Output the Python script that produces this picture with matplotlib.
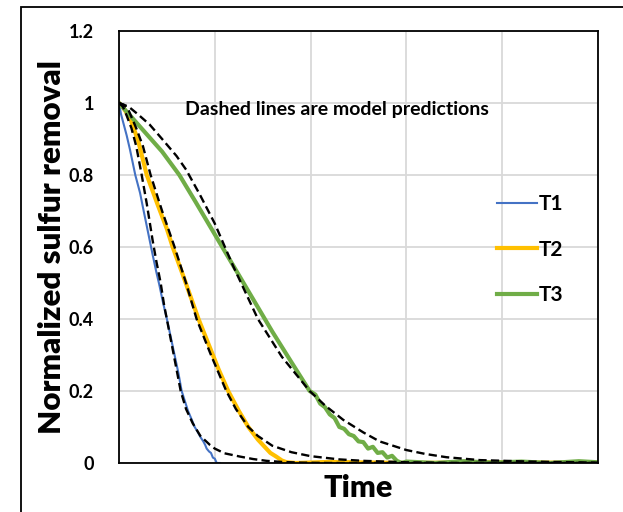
import numpy as np
import matplotlib
matplotlib.use("Agg")
from matplotlib import pyplot as plt

plt.rcParams['font.family'] = ['Lato', 'DejaVu Sans']

# measured curves (time in arbitrary units, one grid cell = 1)
t1 = [0, 0.02, 0.05, 0.08, 0.115, 0.17, 0.22, 0.25, 0.30, 0.35, 0.39, 0.42, 0.46,
      0.50, 0.54, 0.58, 0.62, 0.654, 0.69, 0.72, 0.76, 0.79, 0.82, 0.85, 0.88, 0.90,
      0.915, 0.94, 0.96, 0.98, 1.0, 1.02, 1.05]
y1 = [1.0, 0.97, 0.94, 0.91, 0.87, 0.80, 0.75, 0.71, 0.645, 0.58, 0.53, 0.496, 0.445,
      0.40, 0.35, 0.30, 0.25, 0.20, 0.17, 0.145, 0.12, 0.10, 0.087, 0.072, 0.06, 0.05,
      0.04, 0.032, 0.028, 0.015, 0.012, 0.0, 0.0]

t2 = [0, 0.05, 0.12, 0.2, 0.29, 0.4, 0.5, 0.56, 0.67, 0.75, 0.83, 0.95, 1.04, 1.14,
      1.25, 1.35, 1.45, 1.52, 1.58, 1.64, 1.7, 1.75, 1.85, 2.2, 3.0, 4.0, 5.0]
y2 = [1.0, 0.985, 0.955, 0.895, 0.80, 0.72, 0.65, 0.60, 0.52, 0.46, 0.40, 0.32, 0.26,
      0.20, 0.145, 0.10, 0.065, 0.045, 0.028, 0.018, 0.007, 0.002, 0.0, 0.003, 0.0,
      0.002, 0.0]

t3 = [0, 0.05, 0.15, 0.3, 0.45, 0.63, 0.8, 1.0, 1.2, 1.4, 1.6, 1.8, 1.99, 2.05, 2.1,
      2.15, 2.2, 2.25, 2.3, 2.35, 2.4, 2.45, 2.5, 2.55, 2.6, 2.65, 2.7, 2.75, 2.8, 2.85,
      2.9, 2.95, 3.0, 3.3, 3.6, 3.9, 4.2, 4.5, 4.8, 5.0]
y3 = [1.0, 0.985, 0.955, 0.91, 0.865, 0.80, 0.725, 0.635, 0.545, 0.455, 0.365, 0.28,
      0.20, 0.19, 0.165, 0.155, 0.135, 0.125, 0.10, 0.095, 0.08, 0.075, 0.06, 0.058,
      0.04, 0.045, 0.028, 0.03, 0.015, 0.02, 0.006, 0.0, 0.004, 0.0, 0.005, 0.001,
      0.004, 0.0, 0.005, 0.002]

# model predictions
m1_t = [0, 0.04, 0.08, 0.13, 0.18, 0.237, 0.29, 0.35, 0.39, 0.435, 0.47, 0.55, 0.644,
        0.70, 0.77, 0.85, 0.95, 1.0, 1.1, 1.26, 1.4, 1.54, 1.7, 1.9, 2.2, 3.0, 4.0, 5.0]
m1_y = [1.0, 0.99, 0.965, 0.93, 0.88, 0.80, 0.72, 0.62, 0.56, 0.50, 0.44, 0.33, 0.20,
        0.15, 0.11, 0.075, 0.05, 0.04, 0.027, 0.018, 0.011, 0.006, 0.003, 0.001, 0.0,
        0.0, 0.0, 0.0]

m2_t = [0, 0.05, 0.1, 0.18, 0.25, 0.33, 0.45, 0.58, 0.7, 0.81, 0.96, 1.12, 1.22, 1.35,
        1.45, 1.6, 1.8, 2.0, 2.3, 2.55, 3.0, 3.5, 5.0]
m2_y = [1.0, 0.995, 0.98, 0.93, 0.88, 0.80, 0.70, 0.60, 0.50, 0.40, 0.30, 0.20, 0.15,
        0.10, 0.075, 0.048, 0.03, 0.019, 0.01, 0.006, 0.002, 0.0, 0.0]

m3_t = [0, 0.1, 0.2, 0.32, 0.45, 0.6, 0.7, 0.845, 1.0, 1.19, 1.45, 1.7, 1.99, 2.15,
        2.34, 2.55, 2.72, 3.0, 3.2, 3.42, 3.77, 4.29, 5.0]
m3_y = [1.0, 0.99, 0.968, 0.94, 0.90, 0.853, 0.815, 0.745, 0.665, 0.548, 0.40, 0.295,
        0.20, 0.16, 0.12, 0.085, 0.06, 0.036, 0.025, 0.016, 0.008, 0.004, 0.001]

labels = ["T1", "T2", "T3"]
colors = ["#4472C4", "#FFC000", "#70AD47"]

fig = plt.figure(figsize=(6.23, 5.12), dpi=100)
ax = fig.add_axes([119/623, 49/512, 479/623, 432/512])

# outer frame
fig.patches.append(plt.Rectangle((21/623, -0.1), 1.2, (505/512) + 0.1,
                                 transform=fig.transFigure, fill=False,
                                 ec="black", lw=1.3))

ax.plot(t1, y1, color=colors[0], lw=1.5, label=labels[0])
ax.plot(t2, y2, color=colors[1], lw=3, label=labels[1])
ax.plot(t3, y3, color=colors[2], lw=3, label=labels[2])

for mt, my in [(m1_t, m1_y), (m2_t, m2_y), (m3_t, m3_y)]:
    ax.plot(mt, my, color="black", lw=1.7, dashes=(3.5, 1.8))

ax.set_xlim(0, 5)
ax.set_ylim(0, 1.2)
ax.set_xticks(np.arange(0, 6, 1))
ax.set_xticklabels([])
ax.set_yticks(np.arange(0, 1.21, 0.2))
ax.set_yticklabels(["0", "0.2", "0.4", "0.6", "0.8", "1", "1.2"],
                   fontsize=13, fontweight="bold")
ax.tick_params(length=0, pad=18)
ax.grid(True, color="#D9D9D9", lw=1.3)
ax.set_axisbelow(True)
for s in ax.spines.values():
    s.set_color("black")
    s.set_linewidth(1.3)

fig.text(52/623, 1 - 247/512, "Normalized sulfur removal", rotation=90,
         ha="center", va="center", fontsize=22.5, fontweight="heavy")
fig.text(358.5/623, 1 - 497/512, "Time", ha="center", va="baseline",
         fontsize=22, fontweight="heavy")

ax.text(2.28, 0.966, "Dashed lines are model predictions", ha="center",
        va="baseline", fontsize=14, fontweight="bold")

leg = ax.legend(loc="center left", bbox_to_anchor=(0.789, 0.494), frameon=False,
                prop={"size": 15, "weight": "bold"}, handlelength=1.9,
                handletextpad=0.12, labelspacing=1.22, borderpad=0, borderaxespad=0)

fig.savefig("out.png", dpi=100)
